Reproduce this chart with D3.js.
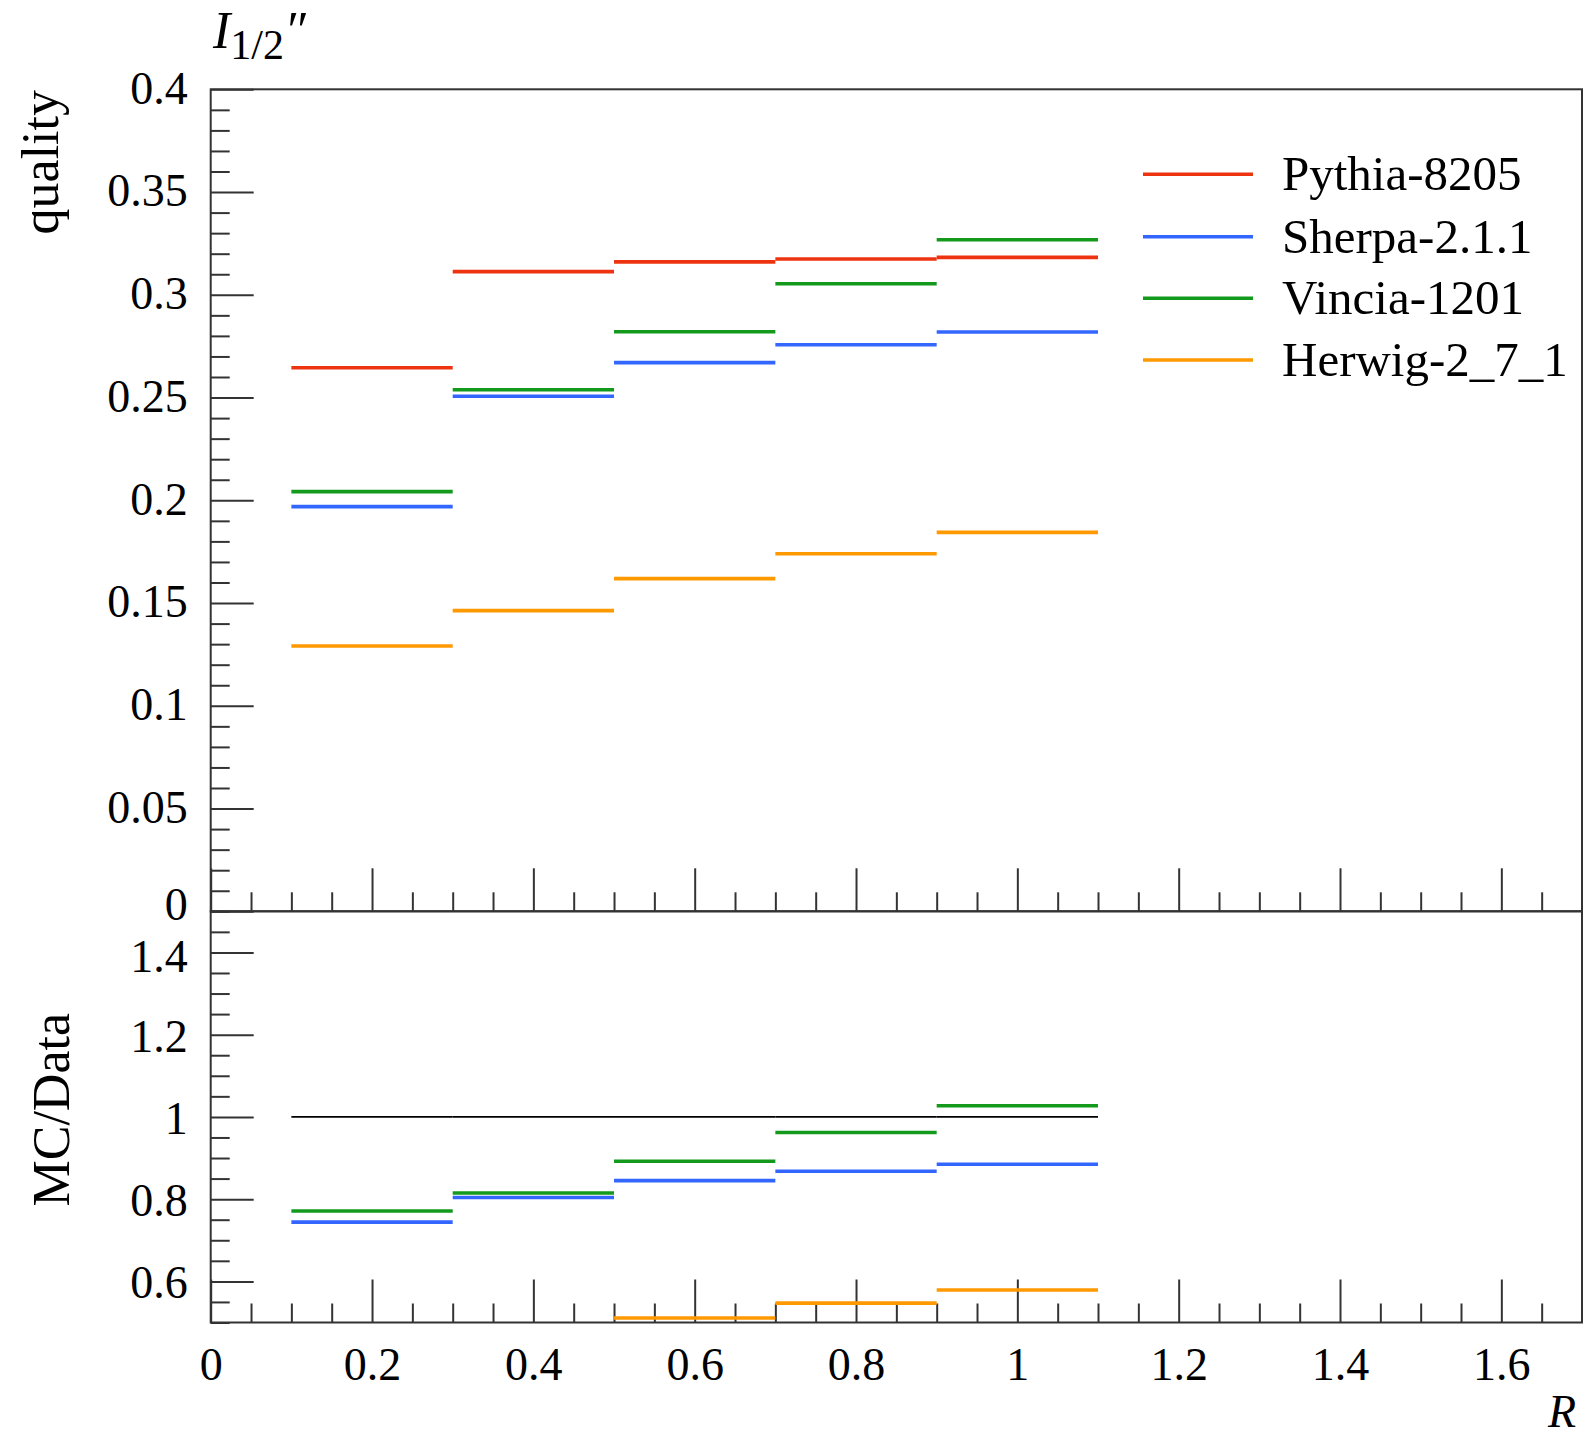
<!DOCTYPE html>
<html>
<head>
<meta charset="utf-8">
<script src="https://cdn.jsdelivr.net/npm/d3@7"></script>
<style>
  body { margin: 0; background: #fff; }
  svg text { font-family: "Liberation Serif", "DejaVu Serif", serif; fill: #000; }
</style>
</head>
<body>
<svg id="chart" width="1589" height="1439"></svg>
<script>

// bins in R
const binEdges = [0.1, 0.3, 0.5, 0.7, 0.9, 1.1];

// upper panel, I_{1/2}'' per generator
const pythia = [0.2645, 0.3113, 0.3160, 0.3174, 0.3182];
const sherpa = [0.1969, 0.2506, 0.2670, 0.2757, 0.2819];
const vincia = [0.2042, 0.2538, 0.2820, 0.3054, 0.3268];
const herwig = [0.1291, 0.1463, 0.1619, 0.1740, 0.1844];

// lower panel, MC/Data (null = below the visible range)
const refRatio    = [1, 1, 1, 1, 1];
const sherpaRatio = [0.744, 0.804, 0.845, 0.868, 0.885];
const vinciaRatio = [0.771, 0.815, 0.892, 0.962, 1.027];
const herwigRatio = [null, null, 0.511, 0.547, 0.579];

const seriesNames = ['Pythia-8205', 'Sherpa-2.1.1', 'Vincia-1201', 'Herwig-2_7_1'];
const seriesColors = ['#ee3311', '#3366ff', '#139a1c', '#ff9900'];

const xTicks = [0, 0.2, 0.4, 0.6, 0.8, 1, 1.2, 1.4, 1.6];
const yTicksTop = [0, 0.05, 0.1, 0.15, 0.2, 0.25, 0.3, 0.35, 0.4];
const yTicksBottom = [0.6, 0.8, 1, 1.2, 1.4];

const svg = d3.select('#chart');

// frame edges
const pLeft = 210.7, pRight = 1582, pTop = 89.3, pMid = 911.3, pBottom = 1322.5;

const x = d3.scaleLinear().domain([0, 1.7]).range([pLeft, pRight]);
const yTop = d3.scaleLinear().domain([0, 0.4]).range([pMid, pTop]);
const yBot = d3.scaleLinear().domain([0.5, 1.5]).range([pBottom, pMid]);

const fmt = d => String(+d.toFixed(2));
const rnd = v => Math.round(v * 1000) / 1000;

const MAJOR = 43, MINOR = 19;
const axisColor = '#333';

// clip paths for the two panels
const defs = svg.append('defs');
defs.append('clipPath').attr('id', 'clipTop')
  .append('rect').attr('x', pLeft).attr('y', pTop).attr('width', pRight - pLeft).attr('height', pMid - pTop);
defs.append('clipPath').attr('id', 'clipBot')
  .append('rect').attr('x', pLeft).attr('y', pMid).attr('width', pRight - pLeft).attr('height', pBottom - pMid);

function styleAxis(g) {
  g.select('.domain').remove();
  g.selectAll('.tick line').attr('stroke', axisColor).attr('stroke-width', 2);
}

// ---- x ticks (both panels) ----
const xMinor = d3.range(0, 1.7, 0.05).map(rnd).filter(v => Math.abs(v / 0.2 - Math.round(v / 0.2)) > 1e-6);

[pMid, pBottom].forEach((yy, i) => {
  svg.append('g').attr('transform', `translate(0,${yy})`)
    .call(d3.axisBottom(x).tickValues(xMinor).tickSize(-MINOR).tickFormat(''))
    .call(styleAxis);
  const gMaj = svg.append('g').attr('transform', `translate(0,${yy})`)
    .call(d3.axisBottom(x).tickValues(xTicks).tickSize(-MAJOR).tickFormat(i === 1 ? fmt : ''))
    .call(styleAxis);
  gMaj.selectAll('text')
    .attr('dy', null).attr('y', 57)
    .style('font-size', '46px');
});

// ---- y ticks upper ----
const yMinorTop = d3.range(0, 0.4001, 0.01).map(rnd).filter(v => Math.abs(v / 0.05 - Math.round(v / 0.05)) > 1e-6);
svg.append('g').attr('transform', `translate(${pLeft},0)`)
  .call(d3.axisLeft(yTop).tickValues(yMinorTop).tickSize(-MINOR).tickFormat(''))
  .call(styleAxis);
svg.append('g').attr('transform', `translate(${pLeft},0)`)
  .call(d3.axisLeft(yTop).tickValues(yTicksTop).tickSize(-MAJOR).tickFormat(fmt))
  .call(styleAxis)
  .selectAll('text')
    .attr('x', -23).attr('dy', d => d === 0 ? '0.18em' : '0.3em')
    .style('font-size', '46px');

// ---- y ticks lower ----
const yMinorBot = d3.range(0.5, 1.5001, 0.05).map(rnd).filter(v => Math.abs(v / 0.2 - Math.round(v / 0.2)) > 1e-6);
svg.append('g').attr('transform', `translate(${pLeft},0)`)
  .call(d3.axisLeft(yBot).tickValues(yMinorBot).tickSize(-MINOR).tickFormat(''))
  .call(styleAxis);
svg.append('g').attr('transform', `translate(${pLeft},0)`)
  .call(d3.axisLeft(yBot).tickValues(yTicksBottom).tickSize(-MAJOR).tickFormat(fmt))
  .call(styleAxis)
  .selectAll('text')
    .attr('x', -23).attr('dy', d => d === 1.4 ? '0.42em' : '0.36em')
    .style('font-size', '46px');

// ---- histogram steps ----
function drawSteps(g, vals, y, color, width) {
  const bins = vals.map((v, i) => ({ x0: binEdges[i], x1: binEdges[i + 1], v }))
    .filter(d => d.v !== null);
  g.selectAll(null).data(bins).enter().append('line')
    .attr('x1', d => x(d.x0)).attr('x2', d => x(d.x1))
    .attr('y1', d => y(d.v)).attr('y2', d => y(d.v))
    .attr('stroke', color).attr('stroke-width', width);
}

const gTop = svg.append('g').attr('clip-path', 'url(#clipTop)');
[pythia, sherpa, vincia, herwig].forEach((s, i) => drawSteps(gTop, s, yTop, seriesColors[i], 3.6));

const gBot = svg.append('g').attr('clip-path', 'url(#clipBot)');
drawSteps(gBot, refRatio, yBot, '#000', 1.8);
[sherpaRatio, vinciaRatio, herwigRatio].forEach((s, i) => drawSteps(gBot, s, yBot, seriesColors[i + 1], 3.6));

// ---- frames ----
svg.append('rect').attr('x', pLeft).attr('y', pTop).attr('width', pRight - pLeft).attr('height', pMid - pTop)
  .attr('fill', 'none').attr('stroke', axisColor).attr('stroke-width', 2);
svg.append('rect').attr('x', pLeft).attr('y', pMid).attr('width', pRight - pLeft).attr('height', pBottom - pMid)
  .attr('fill', 'none').attr('stroke', axisColor).attr('stroke-width', 2);

// ---- legend ----
const legend = svg.append('g');
const legY = [174.3, 236.7, 298.3, 360];
seriesNames.forEach((name, i) => {
  legend.append('line')
    .attr('x1', 1143).attr('x2', 1253)
    .attr('y1', legY[i]).attr('y2', legY[i])
    .attr('stroke', seriesColors[i]).attr('stroke-width', 3.6);
  legend.append('text')
    .attr('x', 1282).attr('y', legY[i] + 16)
    .style('font-size', '49px')
    .text(name);
});

// ---- labels ----
const title = svg.append('text').attr('x', 213).attr('y', 48).style('font-size', '52px');
title.append('tspan').style('font-style', 'italic').text('I');
title.append('tspan').attr('dy', 11).style('font-size', '42px').text('1/2');
title.append('tspan').attr('dy', -11).style('font-size', '52px').style('font-style', 'italic').text('\u2033');

svg.append('text')
  .attr('transform', 'translate(58,90) rotate(-90)')
  .attr('text-anchor', 'end')
  .style('font-size', '52px')
  .text('quality');

svg.append('text')
  .attr('transform', 'translate(69,1013) rotate(-90)')
  .attr('text-anchor', 'end')
  .style('font-size', '52px')
  .text('MC/Data');

svg.append('text')
  .attr('x', 1576).attr('y', 1427)
  .attr('text-anchor', 'end')
  .style('font-size', '46px').style('font-style', 'italic')
  .text('R');

</script>
</body>
</html>
